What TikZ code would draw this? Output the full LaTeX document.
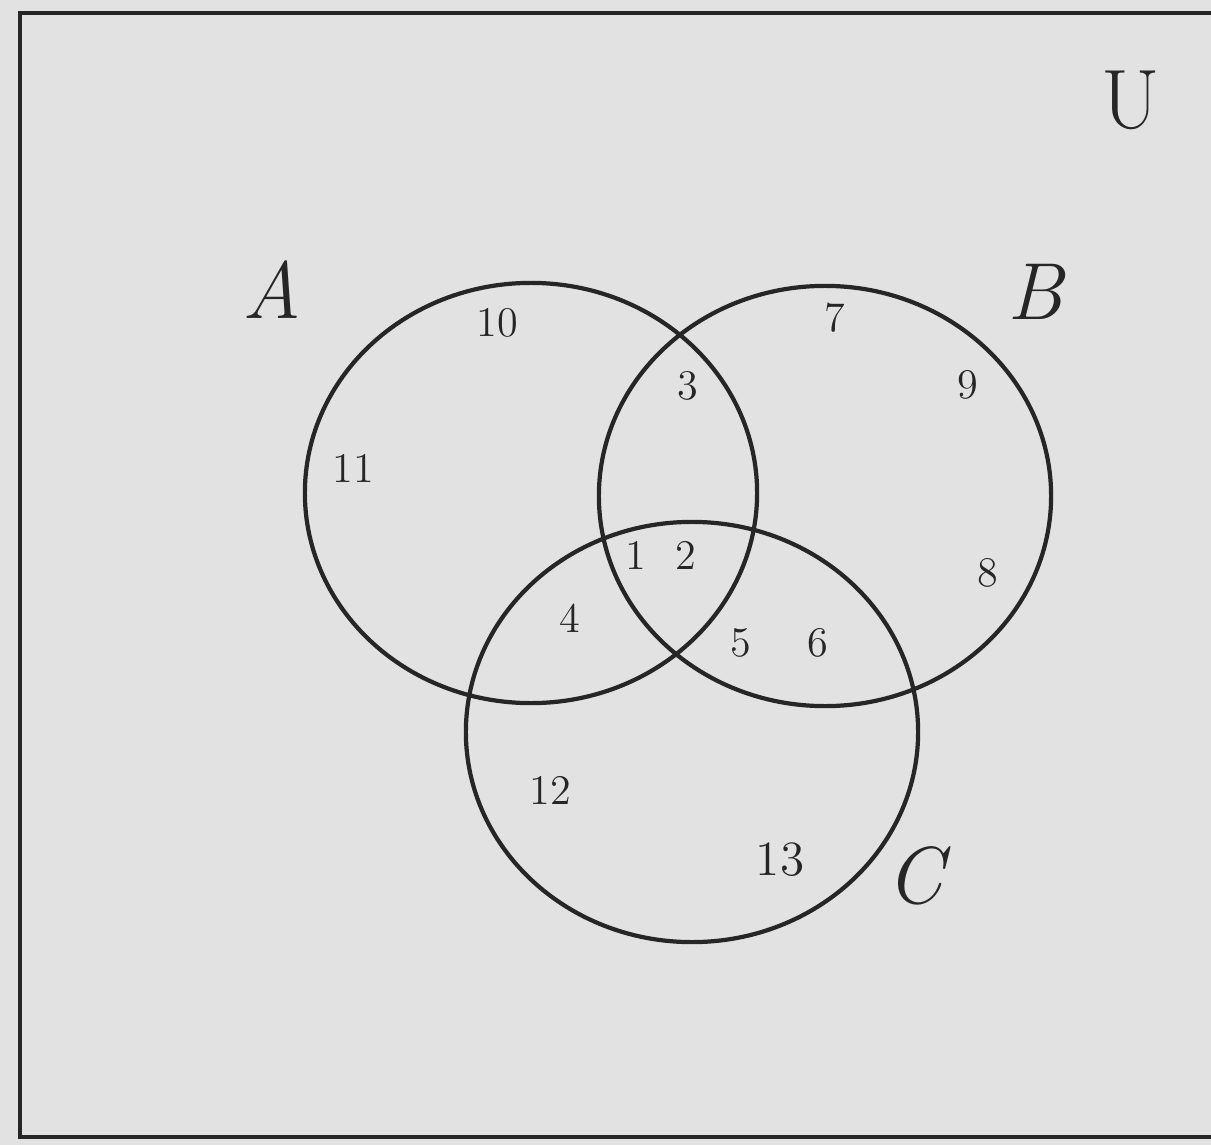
\documentclass[tikz,border=0pt]{standalone}
\usetikzlibrary{shapes.geometric}
\definecolor{paper}{HTML}{E2E2E2}
\definecolor{ink}{HTML}{262626}
\tikzset{
  setellipse/.style={draw=ink, line width=1.2pt, ellipse, inner sep=0pt, minimum width=4.52cm, minimum height=4.2cm},
  num/.style={text=ink, font=\fontsize{12}{14}\selectfont, inner sep=0pt},
  bignum/.style={text=ink, font=\fontsize{14}{16}\selectfont, inner sep=0pt},
  setname/.style={text=ink, font=\fontsize{23}{26}\selectfont\itshape, inner sep=0pt},
}
\begin{document}
\begin{tikzpicture}[x=0.01cm, y=-0.01cm]
\useasboundingbox (0,0) rectangle (1211,1145);
\fill[paper] (0,0) rectangle (1211,1145);
\coordinate (tr) at (1211,13);
\coordinate (tl) at (20,13);
\coordinate (bl) at (20,1137);
\coordinate (br) at (1211,1137);
\draw[ink, line width=1.4pt] (tr) -- (tl) -- (bl) -- (br);
% sets
\node[setellipse] (A) at (531,493) {};
\node[setellipse] (B) at (825,496) {};
\node[setellipse] (C) at (692,732) {};
% labels
\node[setname] (lA) at (272,290) {A};
\node[setname] (lB) at (1035,292) {B};
\node[setname] (lC) at (915,876) {C};
\node[text=ink, font=\fontsize{24}{26}\selectfont, inner sep=0pt] (lU) at (1131,100) {U};
% elements
\node[num] (n10) at (497,323) {10};
\node[num] (n7) at (835,318) {7};
\node[num] (n3) at (688,386) {3};
\node[num] (n9) at (968,385) {9};
\node[num] (n11) at (353,468) {11};
\node[num] (n1) at (636,555) {1};
\node[num] (n2) at (686,555) {2};
\node[num] (n8) at (988,573) {8};
\node[num] (n4) at (570,618) {4};
\node[num] (n5) at (741,643) {5};
\node[num] (n6) at (818,643) {6};
\node[num] (n12) at (550,790) {12};
\node[bignum] (n13) at (780,860) {13};
\end{tikzpicture}
\end{document}
